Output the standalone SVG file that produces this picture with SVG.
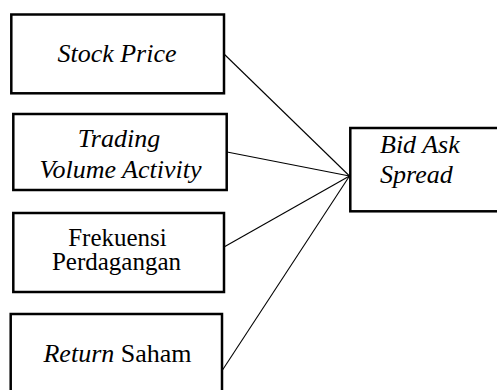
<svg xmlns="http://www.w3.org/2000/svg" width="497" height="390" viewBox="0 0 497 390">
  <style>
    .box { fill: #ffffff; stroke: #000000; stroke-width: 2.5; }
    .lbl { font-family: "Liberation Serif", "Times New Roman", serif; font-size: 26px; fill: #000000; }
    .it { font-style: italic; }
    .sm { font-size: 25px; }
    .title { font-family: "Liberation Serif", "Times New Roman", serif; font-size: 26px; font-weight: bold; fill: #999999; }
    .link { stroke: #000000; stroke-width: 1.1; fill: none; }
  </style>
  <rect x="0" y="0" width="497" height="390" fill="#ffffff"/>

  <!-- heading, sitting almost entirely above the top edge -->
  <text class="title" x="33" y="-1">Research Framework</text>

  <!-- lines from each variable to the dependent variable -->
  <g id="connectors">
    <line class="link" x1="223" y1="53" x2="349.5" y2="176"/>
    <line class="link" x1="227" y1="152" x2="349.5" y2="176"/>
    <line class="link" x1="224" y1="247" x2="349.5" y2="176"/>
    <line class="link" x1="222.5" y1="370" x2="349.5" y2="176"/>
  </g>

  <g id="stock-price">
    <rect class="box" x="11.3" y="14.5" width="212.7" height="78.8"/>
    <text class="lbl it" x="117" y="62" text-anchor="middle">Stock Price</text>
  </g>

  <g id="trading-volume-activity">
    <rect class="box" x="13.3" y="114" width="213.4" height="76"/>
    <text class="lbl it" x="119" y="147" text-anchor="middle">Trading</text>
    <text class="lbl it" x="120.5" y="178" text-anchor="middle">Volume Activity</text>
  </g>

  <g id="frekuensi-perdagangan">
    <rect class="box" x="13.3" y="213" width="210.7" height="79"/>
    <text class="lbl sm" x="117.5" y="245.5" text-anchor="middle">Frekuensi</text>
    <text class="lbl sm" x="116.5" y="270" text-anchor="middle">Perdagangan</text>
  </g>

  <g id="return-saham">
    <rect class="box" x="10.7" y="314" width="211.3" height="90"/>
    <text class="lbl" x="117.5" y="362" text-anchor="middle"><tspan class="it">Return</tspan> Saham</text>
  </g>

  <g id="bid-ask-spread">
    <rect class="box" x="350.3" y="128" width="160" height="83.3"/>
    <text class="lbl it" x="380" y="153">Bid Ask</text>
    <text class="lbl it" x="380" y="183">Spread</text>
  </g>
</svg>
